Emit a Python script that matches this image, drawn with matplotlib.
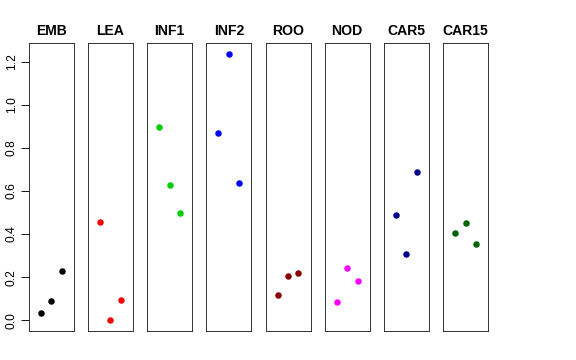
import matplotlib
matplotlib.use("Agg")
import matplotlib.pyplot as plt

plt.rcParams['font.family'] = ['Liberation Sans', 'DejaVu Sans']

groups = ["EMB", "LEA", "INF1", "INF2", "ROO", "NOD", "CAR5", "CAR15"]
colors = ["black", "red", "#00CD00", "blue", "#8B0000", "magenta", "#00008B", "#006400"]
xpos = [1, 2, 3]
values = [
    [0.035, 0.091, 0.230],
    [0.458, 0.000, 0.096],
    [0.897, 0.626, 0.498],
    [0.871, 1.237, 0.637],
    [0.117, 0.206, 0.221],
    [0.085, 0.244, 0.182],
    [0.490, 0.308, 0.688],
    [0.404, 0.450, 0.353],
]
yticks = [0.0, 0.2, 0.4, 0.6, 0.8, 1.0, 1.2]

fig = plt.figure(figsize=(8, 5), dpi=72)
left0 = 28.7 / 576
step = 59.2 / 576
width = 45 / 576
bottom = 1 - 331 / 360
height = (331 - 43) / 360

for i, (name, col, vals) in enumerate(zip(groups, colors, values)):
    ax = fig.add_axes([left0 + i * step, bottom, width, height])
    ax.scatter(xpos, vals, color=col, s=42, zorder=3, linewidths=0)
    ax.set_xlim(-0.16, 4.16)
    ax.set_ylim(-0.0495, 1.2865)
    ax.set_xticks([])
    for sp in ax.spines.values():
        sp.set_linewidth(0.9)
        sp.set_color("#222222")
    ax.set_title(name, fontsize=14, fontweight="bold", pad=8)
    if i == 0:
        ax.set_yticks(yticks)
        ax.set_yticklabels(["%.1f" % t for t in yticks], rotation=90, va="center", fontsize=12)
        ax.tick_params(axis="y", length=8, width=0.9, pad=3)
    else:
        ax.set_yticks([])

fig.savefig("out.png", dpi=72)
